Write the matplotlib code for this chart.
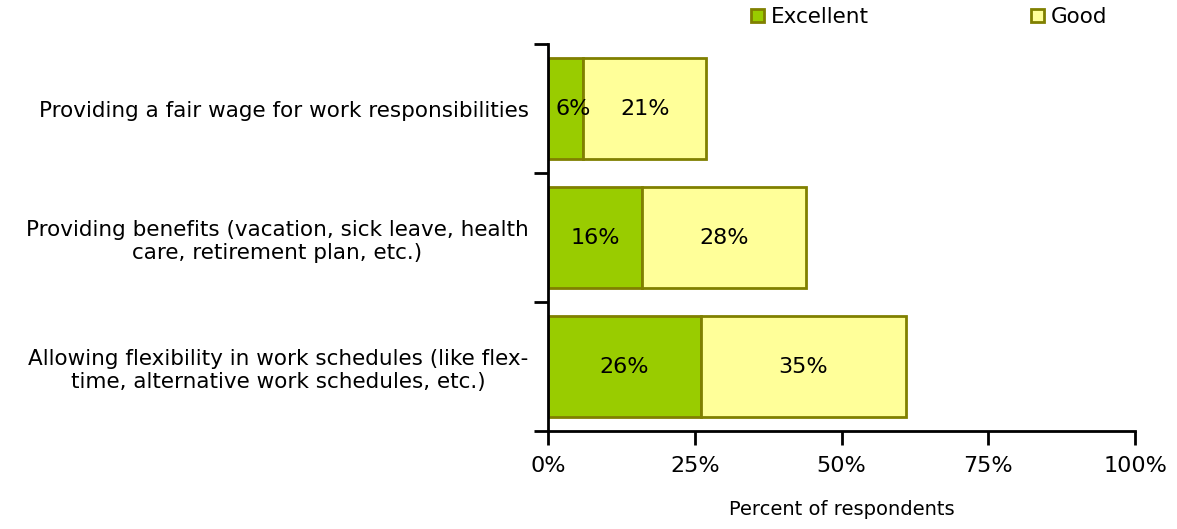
import numpy as np
import matplotlib.pyplot as plt
from matplotlib.patches import Patch

CATEGORIES = ["Providing a fair wage for work responsibilities",
              "Providing benefits (vacation, sick leave, health\ncare, retirement plan, etc.)",
              "Allowing flexibility in work schedules (like flex-\ntime, alternative work schedules, etc.)"]
EXCELLENT = [6, 16, 26]
GOOD = [21, 28, 35]
X_TICKS = [0, 25, 50, 75, 100]

GREEN = "#99CC00"
YELLOW = "#FFFF99"
EDGE = "#808000"
FS = 16
FS_CAT = 15.5

fig = plt.figure(figsize=(11.77, 5.29), dpi=100)
ax = fig.add_axes([548 / 1177, 1 - 431 / 529, (1135 - 548) / 1177, (431 - 44) / 529])

ys = np.arange(len(CATEGORIES))
h = 0.78
ax.barh(ys, EXCELLENT, height=h, color=GREEN, edgecolor=EDGE, linewidth=2)
ax.barh(ys, GOOD, left=EXCELLENT, height=h, color=YELLOW, edgecolor=EDGE, linewidth=2)

for y, e, g in zip(ys, EXCELLENT, GOOD):
    # small segments: keep the label from sticking out past the axis
    ax.text(max(e / 2, 4.3), y, "{}%".format(e), ha="center", va="center", fontsize=FS)
    ax.text(e + g / 2, y, "{}%".format(g), ha="center", va="center", fontsize=FS)

ax.set_xlim(0, 100)
ax.set_ylim(2.5, -0.5)
ax.set_xticks(X_TICKS)
ax.set_xticklabels(["{}%".format(t) for t in X_TICKS], fontsize=FS)
ax.tick_params(axis="x", length=10, width=2, pad=8)

ax.set_yticks(ys)
ax.set_yticklabels(CATEGORIES, fontsize=FS_CAT, multialignment="center")
ax.set_yticks(np.arange(-0.5, len(CATEGORIES), 1), minor=True)
ax.tick_params(axis="y", which="major", length=0, pad=14)
ax.tick_params(axis="y", which="minor", length=10, width=2)

for s in ["top", "right"]:
    ax.spines[s].set_visible(False)
for s in ["left", "bottom"]:
    ax.spines[s].set_linewidth(2)

ax.set_xlabel("Percent of respondents", fontsize=14, labelpad=17)

handles = [Patch(facecolor=GREEN, edgecolor=EDGE, linewidth=2, label="Excellent"),
           Patch(facecolor=YELLOW, edgecolor=EDGE, linewidth=2, label="Good")]
fig.legend(handles=handles, loc="center left", bbox_to_anchor=(751 / 1177, 1 - 17 / 529), ncol=2,
           frameon=False, fontsize=FS_CAT, handlelength=0.6, handleheight=0.6,
           handletextpad=0.3, columnspacing=7.55, borderpad=0, borderaxespad=0)

fig.savefig("out.png", dpi=100)
